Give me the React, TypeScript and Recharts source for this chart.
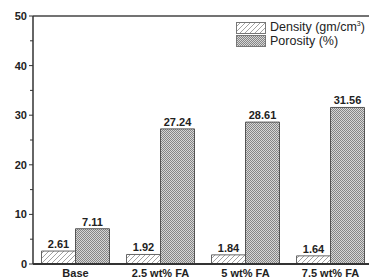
import { BarChart, Bar, XAxis, YAxis, LabelList, ReferenceLine } from "recharts";

const categories = ["Base", "2.5 wt% FA", "5 wt% FA", "7.5 wt% FA"];
const density = [2.61, 1.92, 1.84, 1.64];
const porosity = [7.11, 27.24, 28.61, 31.56];
const yTicks = [0, 5, 10, 15, 20, 25, 30, 35, 40, 45, 50];

const data = categories.map((name, i) => ({
  name,
  density: density[i],
  porosity: porosity[i],
}));

const font = "'Liberation Sans', Arial, sans-serif";

function Patterns({ prefix }: { prefix: string }) {
  return (
    <defs>
      <pattern id={prefix + "hatch"} patternUnits="userSpaceOnUse" width={5} height={5}>
        <rect width={5} height={5} fill="#fff" />
        <path d="M0,5 L5,0 M-1,1 L1,-1 M4,6 L6,4" stroke="#8a8a8a" strokeWidth={0.8} />
      </pattern>
      <pattern id={prefix + "dots"} patternUnits="userSpaceOnUse" width={2} height={2}>
        <rect width={2} height={2} fill="#d6d6d6" />
        <rect x={0} y={0} width={1} height={1} fill="#858585" />
        <rect x={1} y={1} width={1} height={1} fill="#858585" />
      </pattern>
    </defs>
  );
}

function YTick(props: any) {
  const { y, payload } = props;
  const major = payload.value % 10 === 0;
  return (
    <g>
      <line x1={major ? 29 : 30} x2={33} y1={y} y2={y} stroke="#333" strokeWidth={1} />
      {major && (
        <text x={27} y={y + 4} textAnchor="end" fontSize={11} fontWeight="bold" fill="#222" fontFamily={font}>
          {payload.value}
        </text>
      )}
    </g>
  );
}

function XTick(props: any) {
  const { x, payload } = props;
  return (
    <text x={x} y={277} textAnchor="middle" fontSize={11} fontWeight="bold" fill="#222" fontFamily={font}>
      {payload.value}
    </text>
  );
}

function LegendBox() {
  const items = [
    { label: "Density (gm/cm", sup: "3", end: ")", fill: "url(#lg-hatch)" },
    { label: "Porosity (%)", sup: "", end: "", fill: "url(#lg-dots)" },
  ];
  return (
    <div
      style={{
        position: "absolute",
        left: 236,
        top: 22,
        fontFamily: font,
        fontSize: 12.5,
        color: "#222",
        lineHeight: "12px",
      }}
    >
      {items.map((it, i) => (
        <div key={i} style={{ display: "flex", alignItems: "center", height: 12, marginBottom: 0.5 }}>
          <svg width={31} height={12} style={{ marginRight: 3, flexShrink: 0 }}>
            <Patterns prefix="lg-" />
            <rect x={0.5} y={0.5} width={29} height={11} fill={it.fill} stroke="#777" />
          </svg>
          <span style={{ whiteSpace: "nowrap" }}>
            {it.label}
            {it.sup && (
              <span style={{ fontSize: 7, position: "relative", top: -5 }}>{it.sup}</span>
            )}
            {it.end}
          </span>
        </div>
      ))}
    </div>
  );
}

export default function App() {
  return (
    <div
      style={{
        position: "absolute",
        left: 0,
        top: 0,
        width: 369,
        height: 278,
        overflow: "hidden",
        background: "#fff",
      }}
    >
      <BarChart
        width={380}
        height={278}
        data={data}
        margin={{ top: 16, right: 7, left: 0, bottom: 0 }}
        barCategoryGap="10%"
        barGap={0}
      >
        <Patterns prefix="" />
        <XAxis
          dataKey="name"
          height={14}
          tickLine={false}
          tick={<XTick />}
          axisLine={{ stroke: "#333", strokeWidth: 2 }}
          interval={0}
        />
        <YAxis
          width={33}
          domain={[0, 50]}
          ticks={yTicks}
          interval={0}
          tickLine={false}
          tick={<YTick />}
          axisLine={{ stroke: "#333", strokeWidth: 1.5 }}
        />
        <ReferenceLine y={50} stroke="#444" strokeWidth={1.5} />
        <Bar dataKey="density" fill="url(#hatch)" stroke="#666" strokeWidth={1} isAnimationActive={false}>
          <LabelList dataKey="density" position="top" offset={3} fontSize={11} fontWeight="bold" fill="#222" fontFamily={font} />
        </Bar>
        <Bar dataKey="porosity" fill="url(#dots)" stroke="#555" strokeWidth={1} isAnimationActive={false}>
          <LabelList dataKey="porosity" position="top" offset={3} fontSize={11} fontWeight="bold" fill="#222" fontFamily={font} />
        </Bar>
      </BarChart>
      <LegendBox />
    </div>
  );
}
